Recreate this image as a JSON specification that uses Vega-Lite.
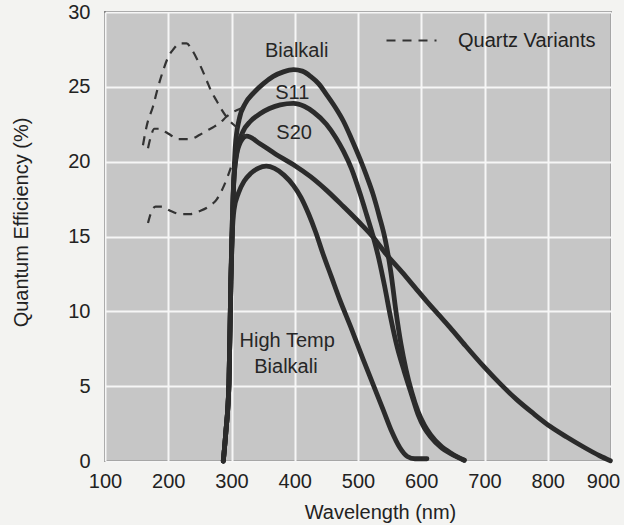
{
  "$schema": "https://vega.github.io/schema/vega-lite/v6.json",
  "width": 506,
  "height": 449,
  "autosize": {"type": "none"},
  "padding": {"left": 105, "top": 12, "right": 13, "bottom": 64},
  "background": "#f3f3f1",
  "config": {
    "view": {"fill": "#c6c6c6", "stroke": "#333333", "strokeWidth": 1.5},
    "font": "Liberation Sans",
    "axis": {
      "grid": true,
      "gridColor": "#f6f6f6",
      "gridWidth": 2,
      "ticks": false,
      "domain": false,
      "labelFlush": false,
      "labelFont": "Liberation Sans",
      "labelFontSize": 20,
      "labelColor": "#222222",
      "titleFont": "Liberation Sans",
      "titleFontSize": 20,
      "titleFontWeight": "normal",
      "titleColor": "#222222"
    }
  },
  "datasets": {
    "solid": [
      {"series": "Bialkali", "wl": 287, "qe": 0},
      {"series": "Bialkali", "wl": 291, "qe": 1.9},
      {"series": "Bialkali", "wl": 296, "qe": 5.2},
      {"series": "Bialkali", "wl": 299, "qe": 12},
      {"series": "Bialkali", "wl": 303, "qe": 18},
      {"series": "Bialkali", "wl": 306, "qe": 21},
      {"series": "Bialkali", "wl": 312, "qe": 22.8},
      {"series": "Bialkali", "wl": 322, "qe": 23.9},
      {"series": "Bialkali", "wl": 335, "qe": 24.6},
      {"series": "Bialkali", "wl": 350, "qe": 25.2},
      {"series": "Bialkali", "wl": 366, "qe": 25.7},
      {"series": "Bialkali", "wl": 382, "qe": 26.0},
      {"series": "Bialkali", "wl": 398, "qe": 26.15},
      {"series": "Bialkali", "wl": 412, "qe": 26.05},
      {"series": "Bialkali", "wl": 425, "qe": 25.7},
      {"series": "Bialkali", "wl": 438, "qe": 25.2},
      {"series": "Bialkali", "wl": 450, "qe": 24.5},
      {"series": "Bialkali", "wl": 463, "qe": 23.7},
      {"series": "Bialkali", "wl": 477, "qe": 22.7},
      {"series": "Bialkali", "wl": 490, "qe": 21.5},
      {"series": "Bialkali", "wl": 503, "qe": 20.2},
      {"series": "Bialkali", "wl": 514, "qe": 19.0},
      {"series": "Bialkali", "wl": 524, "qe": 17.8},
      {"series": "Bialkali", "wl": 534, "qe": 16.3},
      {"series": "Bialkali", "wl": 543, "qe": 14.8},
      {"series": "Bialkali", "wl": 552, "qe": 12.6},
      {"series": "Bialkali", "wl": 560, "qe": 10.0},
      {"series": "Bialkali", "wl": 568, "qe": 7.8},
      {"series": "Bialkali", "wl": 576, "qe": 6.1},
      {"series": "Bialkali", "wl": 585, "qe": 4.6},
      {"series": "Bialkali", "wl": 595, "qe": 3.3},
      {"series": "Bialkali", "wl": 605, "qe": 2.4},
      {"series": "Bialkali", "wl": 615, "qe": 1.75},
      {"series": "Bialkali", "wl": 630, "qe": 1.05},
      {"series": "Bialkali", "wl": 648, "qe": 0.5},
      {"series": "Bialkali", "wl": 668, "qe": 0.05},
      {"series": "S11", "wl": 287, "qe": 0},
      {"series": "S11", "wl": 291, "qe": 1.9},
      {"series": "S11", "wl": 296, "qe": 5.2},
      {"series": "S11", "wl": 299, "qe": 12},
      {"series": "S11", "wl": 304, "qe": 19},
      {"series": "S11", "wl": 309, "qe": 20.8},
      {"series": "S11", "wl": 318, "qe": 22.0},
      {"series": "S11", "wl": 330, "qe": 22.7},
      {"series": "S11", "wl": 345, "qe": 23.2},
      {"series": "S11", "wl": 360, "qe": 23.55},
      {"series": "S11", "wl": 377, "qe": 23.8},
      {"series": "S11", "wl": 398, "qe": 23.9},
      {"series": "S11", "wl": 415, "qe": 23.7},
      {"series": "S11", "wl": 430, "qe": 23.3},
      {"series": "S11", "wl": 450, "qe": 22.5},
      {"series": "S11", "wl": 465, "qe": 21.6},
      {"series": "S11", "wl": 477, "qe": 20.7},
      {"series": "S11", "wl": 490, "qe": 19.5},
      {"series": "S11", "wl": 503, "qe": 17.9},
      {"series": "S11", "wl": 514, "qe": 16.4},
      {"series": "S11", "wl": 524, "qe": 15.0},
      {"series": "S11", "wl": 533, "qe": 13.5},
      {"series": "S11", "wl": 542, "qe": 11.7},
      {"series": "S11", "wl": 552, "qe": 9.5},
      {"series": "S11", "wl": 562, "qe": 7.6},
      {"series": "S11", "wl": 573, "qe": 6.0},
      {"series": "S11", "wl": 585, "qe": 4.4},
      {"series": "S11", "wl": 595, "qe": 3.1},
      {"series": "S11", "wl": 605, "qe": 2.2},
      {"series": "S11", "wl": 615, "qe": 1.6},
      {"series": "S11", "wl": 630, "qe": 0.95},
      {"series": "S11", "wl": 648, "qe": 0.45},
      {"series": "S11", "wl": 668, "qe": 0.05},
      {"series": "S20", "wl": 287, "qe": 0},
      {"series": "S20", "wl": 291, "qe": 1.9},
      {"series": "S20", "wl": 296, "qe": 5.2},
      {"series": "S20", "wl": 299, "qe": 12},
      {"series": "S20", "wl": 304, "qe": 19},
      {"series": "S20", "wl": 312, "qe": 21.1},
      {"series": "S20", "wl": 324, "qe": 21.7},
      {"series": "S20", "wl": 345, "qe": 21.2},
      {"series": "S20", "wl": 370, "qe": 20.5},
      {"series": "S20", "wl": 398, "qe": 19.8},
      {"series": "S20", "wl": 425, "qe": 19.0},
      {"series": "S20", "wl": 450, "qe": 18.1},
      {"series": "S20", "wl": 477, "qe": 17.0},
      {"series": "S20", "wl": 503, "qe": 15.9},
      {"series": "S20", "wl": 525, "qe": 14.9},
      {"series": "S20", "wl": 545, "qe": 13.8},
      {"series": "S20", "wl": 570, "qe": 12.6},
      {"series": "S20", "wl": 590, "qe": 11.6},
      {"series": "S20", "wl": 608, "qe": 10.7},
      {"series": "S20", "wl": 627, "qe": 9.8},
      {"series": "S20", "wl": 645, "qe": 8.95},
      {"series": "S20", "wl": 670, "qe": 7.7},
      {"series": "S20", "wl": 698, "qe": 6.35},
      {"series": "S20", "wl": 725, "qe": 5.15},
      {"series": "S20", "wl": 751, "qe": 4.1},
      {"series": "S20", "wl": 778, "qe": 3.15},
      {"series": "S20", "wl": 804, "qe": 2.3},
      {"series": "S20", "wl": 830, "qe": 1.6},
      {"series": "S20", "wl": 856, "qe": 0.95},
      {"series": "S20", "wl": 882, "qe": 0.35},
      {"series": "S20", "wl": 899, "qe": 0.02},
      {"series": "High Temp Bialkali", "wl": 287, "qe": 0},
      {"series": "High Temp Bialkali", "wl": 291, "qe": 1.9},
      {"series": "High Temp Bialkali", "wl": 296, "qe": 5.2},
      {"series": "High Temp Bialkali", "wl": 299, "qe": 12},
      {"series": "High Temp Bialkali", "wl": 301, "qe": 15},
      {"series": "High Temp Bialkali", "wl": 304, "qe": 16.8},
      {"series": "High Temp Bialkali", "wl": 311, "qe": 17.9},
      {"series": "High Temp Bialkali", "wl": 320, "qe": 18.7},
      {"series": "High Temp Bialkali", "wl": 330, "qe": 19.2},
      {"series": "High Temp Bialkali", "wl": 342, "qe": 19.55},
      {"series": "High Temp Bialkali", "wl": 355, "qe": 19.7},
      {"series": "High Temp Bialkali", "wl": 368, "qe": 19.55},
      {"series": "High Temp Bialkali", "wl": 383, "qe": 19.1},
      {"series": "High Temp Bialkali", "wl": 398, "qe": 18.4},
      {"series": "High Temp Bialkali", "wl": 410, "qe": 17.6},
      {"series": "High Temp Bialkali", "wl": 422, "qe": 16.5},
      {"series": "High Temp Bialkali", "wl": 433, "qe": 15.3},
      {"series": "High Temp Bialkali", "wl": 445, "qe": 13.8},
      {"series": "High Temp Bialkali", "wl": 458, "qe": 12.3},
      {"series": "High Temp Bialkali", "wl": 471, "qe": 10.8},
      {"series": "High Temp Bialkali", "wl": 490, "qe": 8.8},
      {"series": "High Temp Bialkali", "wl": 508, "qe": 6.8},
      {"series": "High Temp Bialkali", "wl": 524, "qe": 5.1},
      {"series": "High Temp Bialkali", "wl": 540, "qe": 3.4},
      {"series": "High Temp Bialkali", "wl": 553, "qe": 2.0},
      {"series": "High Temp Bialkali", "wl": 566, "qe": 0.9},
      {"series": "High Temp Bialkali", "wl": 578, "qe": 0.3},
      {"series": "High Temp Bialkali", "wl": 590, "qe": 0.15},
      {"series": "High Temp Bialkali", "wl": 609, "qe": 0.15}
    ],
    "dashed": [
      {"series": "Quartz A", "kind": "Quartz Variants", "wl": 160, "qe": 21.1},
      {"series": "Quartz A", "kind": "Quartz Variants", "wl": 166, "qe": 22.4},
      {"series": "Quartz A", "kind": "Quartz Variants", "wl": 176, "qe": 23.7},
      {"series": "Quartz A", "kind": "Quartz Variants", "wl": 184, "qe": 25.0},
      {"series": "Quartz A", "kind": "Quartz Variants", "wl": 192, "qe": 26.1},
      {"series": "Quartz A", "kind": "Quartz Variants", "wl": 200, "qe": 27.0},
      {"series": "Quartz A", "kind": "Quartz Variants", "wl": 208, "qe": 27.5},
      {"series": "Quartz A", "kind": "Quartz Variants", "wl": 218, "qe": 27.9},
      {"series": "Quartz A", "kind": "Quartz Variants", "wl": 229, "qe": 27.9},
      {"series": "Quartz A", "kind": "Quartz Variants", "wl": 237, "qe": 27.5},
      {"series": "Quartz A", "kind": "Quartz Variants", "wl": 245, "qe": 26.9},
      {"series": "Quartz A", "kind": "Quartz Variants", "wl": 253, "qe": 26.2},
      {"series": "Quartz A", "kind": "Quartz Variants", "wl": 261, "qe": 25.4},
      {"series": "Quartz A", "kind": "Quartz Variants", "wl": 268, "qe": 24.7},
      {"series": "Quartz A", "kind": "Quartz Variants", "wl": 276, "qe": 24.1},
      {"series": "Quartz A", "kind": "Quartz Variants", "wl": 284, "qe": 23.5},
      {"series": "Quartz A", "kind": "Quartz Variants", "wl": 292, "qe": 23.0},
      {"series": "Quartz A", "kind": "Quartz Variants", "wl": 300, "qe": 22.6},
      {"series": "Quartz A", "kind": "Quartz Variants", "wl": 308, "qe": 22.3},
      {"series": "Quartz A", "kind": "Quartz Variants", "wl": 316, "qe": 21.9},
      {"series": "Quartz A", "kind": "Quartz Variants", "wl": 324, "qe": 21.7},
      {"series": "Quartz B", "kind": "Quartz Variants", "wl": 168, "qe": 20.9},
      {"series": "Quartz B", "kind": "Quartz Variants", "wl": 172, "qe": 21.6},
      {"series": "Quartz B", "kind": "Quartz Variants", "wl": 178, "qe": 22.2},
      {"series": "Quartz B", "kind": "Quartz Variants", "wl": 186, "qe": 22.2},
      {"series": "Quartz B", "kind": "Quartz Variants", "wl": 195, "qe": 22.0},
      {"series": "Quartz B", "kind": "Quartz Variants", "wl": 203, "qe": 21.8},
      {"series": "Quartz B", "kind": "Quartz Variants", "wl": 215, "qe": 21.5},
      {"series": "Quartz B", "kind": "Quartz Variants", "wl": 234, "qe": 21.5},
      {"series": "Quartz B", "kind": "Quartz Variants", "wl": 250, "qe": 21.8},
      {"series": "Quartz B", "kind": "Quartz Variants", "wl": 262, "qe": 22.1},
      {"series": "Quartz B", "kind": "Quartz Variants", "wl": 271, "qe": 22.3},
      {"series": "Quartz B", "kind": "Quartz Variants", "wl": 282, "qe": 22.6},
      {"series": "Quartz B", "kind": "Quartz Variants", "wl": 292, "qe": 23.0},
      {"series": "Quartz B", "kind": "Quartz Variants", "wl": 302, "qe": 23.3},
      {"series": "Quartz B", "kind": "Quartz Variants", "wl": 312, "qe": 23.5},
      {"series": "Quartz B", "kind": "Quartz Variants", "wl": 320, "qe": 23.6},
      {"series": "Quartz C", "kind": "Quartz Variants", "wl": 168, "qe": 15.9},
      {"series": "Quartz C", "kind": "Quartz Variants", "wl": 172, "qe": 16.5},
      {"series": "Quartz C", "kind": "Quartz Variants", "wl": 180, "qe": 17.0},
      {"series": "Quartz C", "kind": "Quartz Variants", "wl": 190, "qe": 17.0},
      {"series": "Quartz C", "kind": "Quartz Variants", "wl": 204, "qe": 16.7},
      {"series": "Quartz C", "kind": "Quartz Variants", "wl": 219, "qe": 16.5},
      {"series": "Quartz C", "kind": "Quartz Variants", "wl": 235, "qe": 16.5},
      {"series": "Quartz C", "kind": "Quartz Variants", "wl": 250, "qe": 16.7},
      {"series": "Quartz C", "kind": "Quartz Variants", "wl": 264, "qe": 17.0},
      {"series": "Quartz C", "kind": "Quartz Variants", "wl": 277, "qe": 17.5},
      {"series": "Quartz C", "kind": "Quartz Variants", "wl": 286, "qe": 18.2},
      {"series": "Quartz C", "kind": "Quartz Variants", "wl": 293, "qe": 18.9},
      {"series": "Quartz C", "kind": "Quartz Variants", "wl": 299, "qe": 19.6}
    ],
    "labels": [
      {"text": "Bialkali", "wl": 403, "qe": 27.4},
      {"text": "S11", "wl": 396, "qe": 24.6},
      {"text": "S20", "wl": 399, "qe": 21.9},
      {"text": "High Temp", "wl": 388, "qe": 8.0},
      {"text": "Bialkali", "wl": 386, "qe": 6.25}
    ]
  },
  "encoding": {
    "x": {
      "field": "wl",
      "type": "quantitative",
      "scale": {"domain": [100, 900], "nice": false, "zero": false},
      "axis": {
        "title": "Wavelength (nm)",
        "values": [100, 200, 300, 400, 500, 600, 700, 800, 900],
        "labelPadding": 10,
        "labelOffset": {"condition": {"test": "datum.value >= 900", "value": -8}, "value": 0},
        "titlePadding": 11,
        "titleX": 275
      }
    },
    "y": {
      "field": "qe",
      "type": "quantitative",
      "scale": {"domain": [0, 30], "nice": false, "zero": true},
      "axis": {
        "title": "Quantum Efficiency (%)",
        "values": [0, 5, 10, 15, 20, 25, 30],
        "labelPadding": 15,
        "titlePadding": 36,
        "titleY": 210
      }
    }
  },
  "layer": [
    {
      "data": {"name": "solid"},
      "mark": {"type": "line", "color": "#2b2b2b", "strokeWidth": 4.8, "interpolate": "monotone", "strokeCap": "round", "strokeJoin": "round"},
      "encoding": {"detail": {"field": "series", "type": "nominal"}}
    },
    {
      "data": {"name": "dashed"},
      "mark": {"type": "line", "color": "#333333", "strokeWidth": 2.2, "interpolate": "monotone"},
      "encoding": {
        "detail": {"field": "series", "type": "nominal"},
        "strokeDash": {
          "field": "kind",
          "type": "nominal",
          "scale": {"domain": ["Quartz Variants"], "range": [[9, 7]]},
          "legend": {
            "title": null,
            "orient": "none",
            "legendX": 280,
            "legendY": 2,
            "padding": 0,
            "symbolType": "stroke",
            "symbolSize": 2500,
            "symbolStrokeWidth": 2.2,
            "symbolStrokeColor": "#333333",
            "labelFont": "Liberation Sans",
            "labelFontSize": 20,
            "labelColor": "#222222",
            "labelOffset": 20
          }
        }
      }
    },
    {
      "data": {"name": "labels"},
      "mark": {"type": "text", "font": "Liberation Sans", "fontSize": 20, "color": "#262626", "align": "center", "baseline": "middle"},
      "encoding": {"text": {"field": "text", "type": "nominal"}}
    }
  ]
}
